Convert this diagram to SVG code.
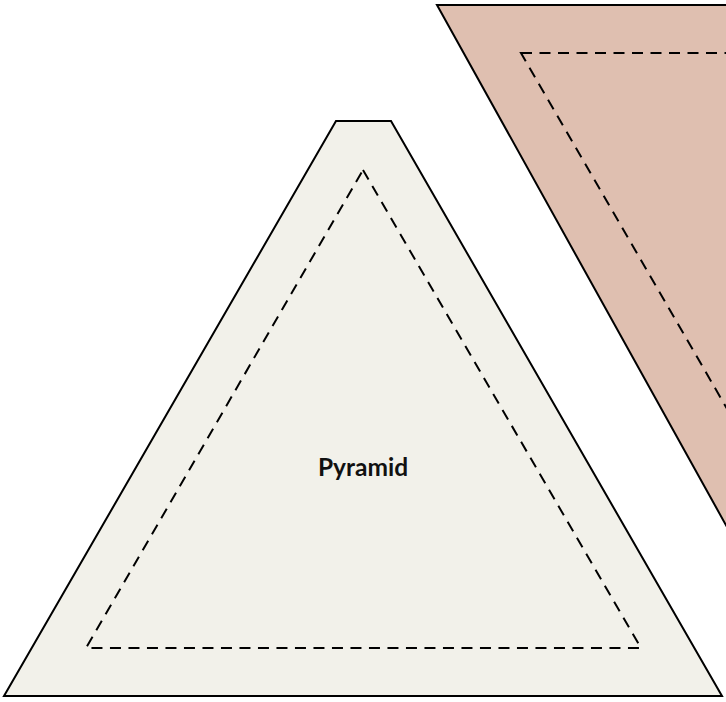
<svg xmlns="http://www.w3.org/2000/svg" width="726" height="702" viewBox="0 0 726 702">
<style>
.outline{stroke:#000;stroke-width:2;stroke-linejoin:miter}
.dash{fill:none;stroke:#000;stroke-width:2;stroke-dasharray:11 7.5}
.label{font-family:Lato,"Open Sans",sans-serif;font-weight:bold;font-size:24.5px;fill:#111;text-anchor:middle}
</style>
<rect width="726" height="702" fill="#fff"/>
<g id="inverted">
<polygon class="outline" fill="#dfbfb0" points="437,5 1060,5 749,545 737,545"/>
<polygon class="dash" points="521,53 975,53 748,445"/>
</g>
<g id="pyramid">
<polygon class="outline" fill="#f2f1ea" points="336,121 391,121 722,696 4,696"/>
<polygon class="dash" points="363,170 641,648 86,648"/>
<text class="label" x="363" y="476">Pyramid</text>
</g>
<g id="connectors"/>
</svg>
